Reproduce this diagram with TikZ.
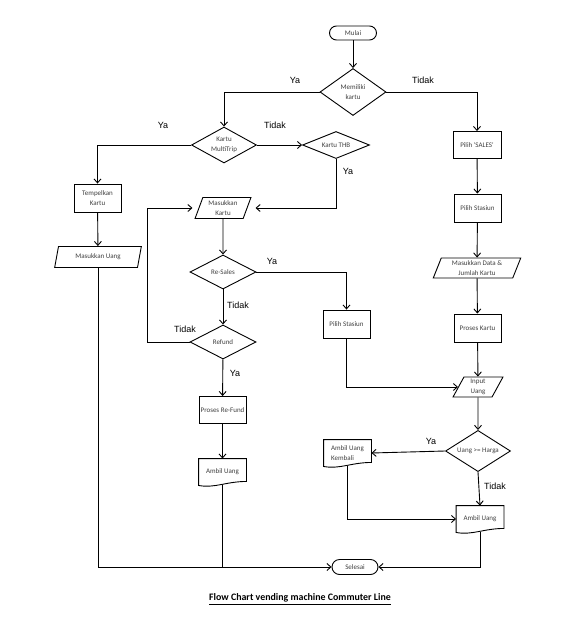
\documentclass[tikz,border=0pt]{standalone}
\usepackage{fontspec}
\setmainfont{Carlito}
\newfontfamily\labelfont{Liberation Sans}
\usetikzlibrary{shapes.geometric,arrows.meta}
\definecolor{txt}{HTML}{404040}
\newcommand\docdraw[1]{\draw[lin] (#1.south west) -- (#1.north west) -- (#1.north east) -- ([yshift=4pt]#1.south east) .. controls ([xshift=-20pt,yshift=4pt]#1.south east) and ([xshift=16pt,yshift=-3pt]#1.south west) .. (#1.south west) -- cycle;}
\begin{document}
\begin{tikzpicture}[x=1pt,y=-1pt,
  lin/.style={line width=0.9pt, draw=black},
  arr/.style={lin, -{Straight Barb[length=4pt,width=7pt]}},
  base/.style={line width=0.9pt, text=txt, font=\fontsize{7}{10.5}\selectfont, align=center, inner sep=0pt},
  term/.style={base, draw, rounded corners=7pt, minimum width=47, minimum height=14},
  proc/.style={base, draw, minimum width=47, minimum height=28},
  dec/.style={base, draw, diamond, inner sep=-1.5pt},
  io/.style={base, draw, trapezium, trapezium left angle=70, trapezium right angle=110, trapezium stretches=true},
  doc/.style={base, minimum width=47, minimum height=26},
  lbl/.style={font=\labelfont\fontsize{9}{10}\selectfont, text=black, inner sep=0pt}
]
\fill[white] (0,0) rectangle (569,640);
\useasboundingbox (0,0) rectangle (569,640);

% nodes
\node[term] (mulai) at (353,33) {Mulai};
\node[dec, minimum width=66, minimum height=47] (memiliki) at (353,92) {Memiliki\\kartu};
\node[dec, minimum width=65, minimum height=26] (multi) at (224,145) {Kartu\\MultiTrip};
\node[dec, minimum width=67, minimum height=26] (thb) at (336,145) {Kartu THB};
\node[proc] (tempel) at (97.5,198) {Tempelkan\\Kartu};
\node[io, minimum width=87, minimum height=21] (musang) at (98,257) {Masukkan Uang};
\node[io, minimum width=56, minimum height=21] (mkartu) at (223,208) {Masukkan\\Kartu};
\node[dec, minimum width=66, minimum height=34] (resales) at (223,272) {Re-Sales};
\node[dec, minimum width=66, minimum height=34] (refund) at (223,342) {Refund};
\node[proc] (pstas1) at (346.5,324) {Pilih Stasiun};
\node[proc, minimum height=27] (prefund) at (222.5,410) {Proses Re-Fund};
\node[doc] (au1) at (222.5,472) {Ambil Uang};
\node[term, minimum width=46, minimum height=15, rounded corners=7.5pt] (selesai) at (355,567) {Selesai};
\node[proc, minimum width=48, minimum height=27] (sales) at (477,145) {Pilih \textquotesingle SALES\textquotesingle};
\node[proc] (pstas2) at (477.5,208) {Pilih Stasiun};
\node[io, minimum width=88, minimum height=20] (mdata) at (477,268) {Masukkan Data \&\\Jumlah Kartu};
\node[proc] (pkartu) at (477.5,328) {Proses Kartu};
\node[io, minimum width=50, minimum height=20] (input) at (478,387) {Input\\Uang};
\node[dec, minimum width=65, minimum height=34] (harga) at (478,451) {Uang >= Harga};
\node[doc, align=left] (auk) at (347.5,453) {Ambil Uang\\Kembali};
\node[doc] (au2) at (480,519) {Ambil Uang};
\docdraw{au1}
\docdraw{auk}
\docdraw{au2}

% connectors
\draw[arr] (mulai) -- (memiliki);
\draw[arr] (memiliki.west) -| (multi.north);
\draw[arr] (memiliki.east) -| (sales.north);
\draw[arr] (multi.east) -- (thb.west);
\draw[arr] (multi.west) -| (tempel.north);
\draw[arr] (tempel) -- (musang);
\draw[arr, shorten >=8pt] (thb.south) |- (mkartu.east);
\draw[arr] (mkartu) -- (resales);
\draw[arr] (resales.east) -| (pstas1.north);
\draw[arr] (resales) -- (refund);
\coordinate (lx) at (147,342);
\draw[arr, shorten >=6pt] (refund.west) -- (lx) |- (mkartu.west);
\draw[arr] (refund) -- (prefund);
\draw[arr] (prefund) -- (au1);
\draw[arr] (musang.south) |- (selesai.west);
\draw[lin] (au1.south) -- (au1.south |- selesai.west);
\draw[arr] (pstas1.south) |- (input.west);
\draw[arr] (sales) -- (pstas2);
\draw[arr] (pstas2) -- (mdata);
\draw[arr] (mdata) -- (pkartu);
\draw[arr] (pkartu) -- (input);
\draw[arr] (input) -- (harga);
\draw[arr] (harga.west) -- (auk.east);
\draw[arr] (harga.south) -- (au2.north);
\draw[arr] (auk.south) |- (au2.west);
\draw[arr] (au2.south) |- (selesai.east);

% labels
\node[lbl] (l1) at (295,80) {Ya};
\node[lbl] (l2) at (423,80) {Tidak};
\node[lbl] (l3) at (163,125) {Ya};
\node[lbl] (l4) at (275,125) {Tidak};
\node[lbl] (l5) at (348,171) {Ya};
\node[lbl] (l6) at (272,261) {Ya};
\node[lbl] (l7) at (238,305) {Tidak};
\node[lbl] (l8) at (185,329) {Tidak};
\node[lbl] (l9) at (235,373) {Ya};
\node[lbl] (l10) at (431,441) {Ya};
\node[lbl] (l11) at (495,486) {Tidak};

\node[font=\bfseries\fontsize{9.9}{11}\selectfont, inner sep=0pt] (title) at (300,599) {\underline{Flow Chart vending machine Commuter Line}};
\end{tikzpicture}
\end{document}
